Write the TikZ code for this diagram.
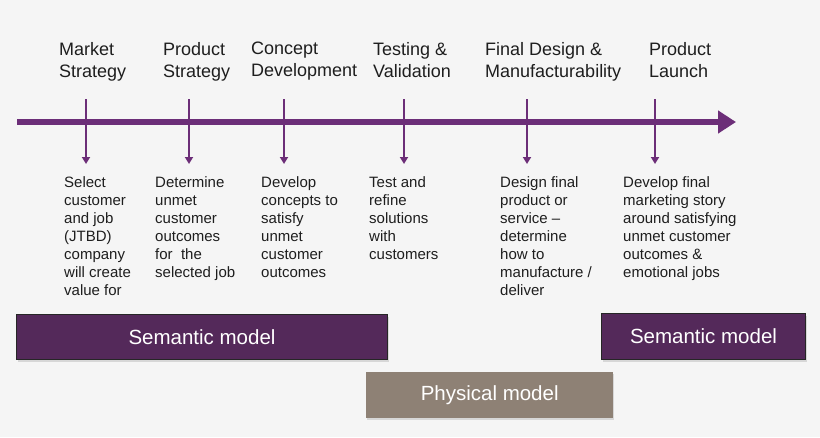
\documentclass[tikz,border=0pt]{standalone}
\usepackage{fontspec}
\setmainfont{Liberation Sans}
\usetikzlibrary{arrows.meta, positioning, shadows}
\definecolor{cpurple}{HTML}{6C2E78}
\definecolor{cplum}{HTML}{54295A}
\definecolor{ctaupe}{HTML}{8E8175}
\definecolor{ctext}{HTML}{1E1E1E}
\definecolor{cbg}{HTML}{F5F5F5}
\tikzset{
  every picture/.style={x=1pt, y=-1pt},
  phase/.style={anchor=north west, inner sep=0pt, align=left, text=ctext, font=\fontsize{18}{22}\selectfont},
  detail/.style={anchor=north west, inner sep=0pt, align=left, text=ctext, font=\fontsize{15}{18}\selectfont},
  timeline/.style={-{Triangle[length=18pt, width=22pt]}, draw=cpurple, line width=6pt},
  tick/.style={-{Triangle[length=7pt, width=8pt]}, draw=cpurple, line width=2pt},
  model/.style={fill=#1, text=white, anchor=north west, inner sep=0pt, font=\fontsize{20.5}{24}\selectfont,
                drop shadow={shadow xshift=1pt, shadow yshift=-2pt, opacity=0.25}},
}

\begin{document}
\begin{tikzpicture}
  \fill[cbg] (0,0) rectangle (820,437);
  \useasboundingbox (0,0) rectangle (820,437);
  % timeline
  \coordinate (ts) at (17,122);
  \coordinate (te) at (736,122);
  \draw[timeline] (ts) -- (te);
  % phases
  \node[phase] (p1) at (59,42)  {Market\\Strategy};
  \node[phase] (p2) at (163,42) {Product\\Strategy};
  \node[phase] (p3) at (251,42) {Concept\\Development};
  \node[phase] (p4) at (373,42) {Testing \&\\Validation};
  \node[phase] (p5) at (485,42) {Final Design \&\\Manufacturability};
  \node[phase] (p6) at (649,42) {Product\\Launch};
  % ticks
  \foreach \i/\x in {1/86, 2/189, 3/284, 4/404, 5/527, 6/655} {
    \coordinate (a\i) at (\x,99);
    \coordinate (b\i) at (\x,164);
    \draw[tick] (a\i) -- (b\i);
  }
  % details
  \node[detail] (d1) at (64,176)  {Select\\customer\\and job\\(JTBD)\\company\\will create\\value for};
  \node[detail] (d2) at (155,176) {Determine\\unmet\\customer\\outcomes\\for \ the\\selected job};
  \node[detail] (d3) at (261,176) {Develop\\concepts to\\satisfy\\unmet\\customer\\outcomes};
  \node[detail] (d4) at (369,176) {Test and\\refine\\solutions\\with\\customers};
  \node[detail] (d5) at (500,176) {Design final\\product or\\service --\\determine\\how to\\manufacture /\\deliver};
  \node[detail] (d6) at (623,176) {Develop final\\marketing story\\around satisfying\\unmet customer\\outcomes \&\\emotional jobs};
  % models
  \node[model=cplum, draw=black!85, line width=1pt, minimum width=371pt, minimum height=45pt] (s1) at (16,314) {Semantic model};
  \node[model=cplum, draw=black!85, line width=1pt, minimum width=204pt, minimum height=46pt] (s2) at (601,313) {Semantic model};
  \node[model=ctaupe, minimum width=247pt, minimum height=46pt] (m1) at (366,372) {Physical model};
\end{tikzpicture}
\end{document}
